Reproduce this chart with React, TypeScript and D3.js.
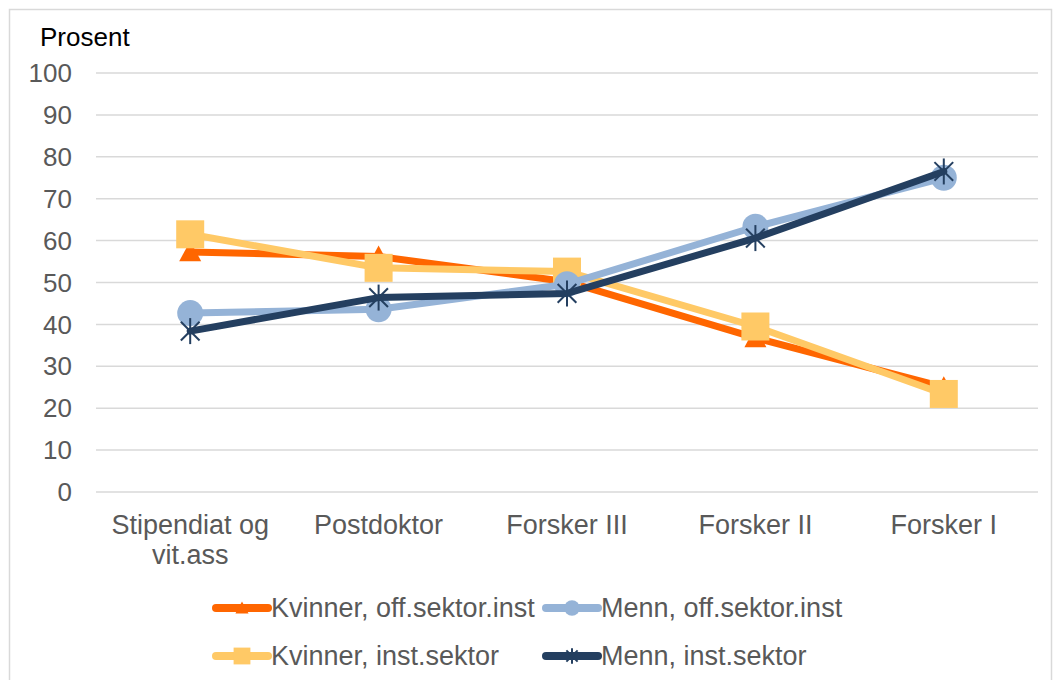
import React from "react";
import * as d3 from "d3";

const categories = [["Stipendiat og", "vit.ass"], ["Postdoktor"], ["Forsker III"], ["Forsker II"], ["Forsker I"]];
const kvinnerOff = [57.3, 56.2, 50.2, 36.8, 25.0];
const mennOff = [42.7, 43.6, 49.6, 63.3, 75.0];
const kvinnerInst = [61.5, 53.5, 52.6, 39.5, 23.4];
const mennInst = [38.4, 46.4, 47.4, 60.6, 76.5];
const yTicks = [0, 10, 20, 30, 40, 50, 60, 70, 80, 90, 100];

type Marker = "triangle" | "circle" | "square" | "star";
const series = [
  { name: "Kvinner, off.sektor.inst", values: kvinnerOff, color: "#FF6600", marker: "triangle" as Marker },
  { name: "Kvinner, inst.sektor", values: kvinnerInst, color: "#FFC966", marker: "square" as Marker },
  { name: "Menn, off.sektor.inst", values: mennOff, color: "#95B3D7", marker: "circle" as Marker },
  { name: "Menn, inst.sektor", values: mennInst, color: "#243F60", marker: "star" as Marker },
];
const legendOrder = [
  { idx: 0, col: 0, row: 0 },
  { idx: 2, col: 1, row: 0 },
  { idx: 1, col: 0, row: 1 },
  { idx: 3, col: 1, row: 1 },
];

const W = 1053, H = 680;
const plotLeft = 96, plotRight = 1038, plotTop = 73, plotBottom = 492;
const font = "'Liberation Sans', Arial, sans-serif";

function MarkerShape({ type, x, y, color, scale = 1 }: { type: Marker; x: number; y: number; color: string; scale?: number }) {
  if (type === "triangle") {
    const s = 11 * scale;
    return <path d={`M${x},${y - s}L${x + s},${y + s * 0.85}L${x - s},${y + s * 0.85}Z`} fill={color} />;
  }
  if (type === "square") {
    const s = 14 * scale;
    return <rect x={x - s} y={y - s} width={2 * s} height={2 * s} fill={color} />;
  }
  if (type === "circle") {
    return <circle cx={x} cy={y} r={13 * scale} fill={color} />;
  }
  const s = 13 * scale;
  const d = s * 0.72;
  return (
    <g stroke={color} strokeWidth={2}>
      <line x1={x} y1={y - s} x2={x} y2={y + s} />
      <line x1={x - d} y1={y - d} x2={x + d} y2={y + d} />
      <line x1={x - d} y1={y + d} x2={x + d} y2={y - d} />
    </g>
  );
}

export default function App() {
  const x = d3.scalePoint<number>().domain(d3.range(categories.length)).range([plotLeft, plotRight]).padding(0.5);
  const y = d3.scaleLinear().domain([0, 100]).range([plotBottom, plotTop]);
  const line = d3.line<number>().x((_, i) => x(i)!).y((v) => y(v));

  return (
    <svg width={W} height={H} style={{ position: "absolute", left: 0, top: 0, fontFamily: font }}>
      <rect x={0} y={0} width={W} height={H} fill="#fff" />
      <rect x={9.5} y={9.5} width={1042} height={700} fill="none" stroke="#D9D9D9" strokeWidth={1.5} />
      <text x={40} y={46} fontSize={26} fill="#000">Prosent</text>
      {yTicks.map((t) => (
        <g key={t}>
          <line x1={plotLeft} x2={plotRight} y1={y(t)} y2={y(t)} stroke="#D9D9D9" strokeWidth={1.5} />
          <text x={72} y={y(t)} dy="0.35em" textAnchor="end" fontSize={26} fill="#595959">{t}</text>
        </g>
      ))}
      {categories.map((c, i) => (
        <text key={i} x={x(i)} y={534} textAnchor="middle" fontSize={27} fill="#595959">
          {c.map((l, j) => (
            <tspan key={j} x={x(i)} dy={j === 0 ? 0 : 30}>{l}</tspan>
          ))}
        </text>
      ))}
      {series.map((s) => (
        <g key={s.name}>
          <path d={line(s.values)!} fill="none" stroke={s.color} strokeWidth={7} strokeLinejoin="round" strokeLinecap="round" />
          {s.values.map((v, i) => (
            <MarkerShape key={i} type={s.marker} x={x(i)!} y={y(v)} color={s.color} />
          ))}
        </g>
      ))}
      {legendOrder.map(({ idx, col, row }) => {
        const s = series[idx];
        const lx = col === 0 ? 216 : 546;
        const ly = row === 0 ? 608 : 656;
        return (
          <g key={s.name}>
            <line x1={lx} x2={lx + 52} y1={ly} y2={ly} stroke={s.color} strokeWidth={8} strokeLinecap="round" />
            <MarkerShape type={s.marker} x={lx + 26} y={ly} color={s.color} scale={0.6} />
            <text x={lx + 55} y={ly} dy="0.35em" fontSize={27} fill="#595959">{s.name}</text>
          </g>
        );
      })}
    </svg>
  );
}
